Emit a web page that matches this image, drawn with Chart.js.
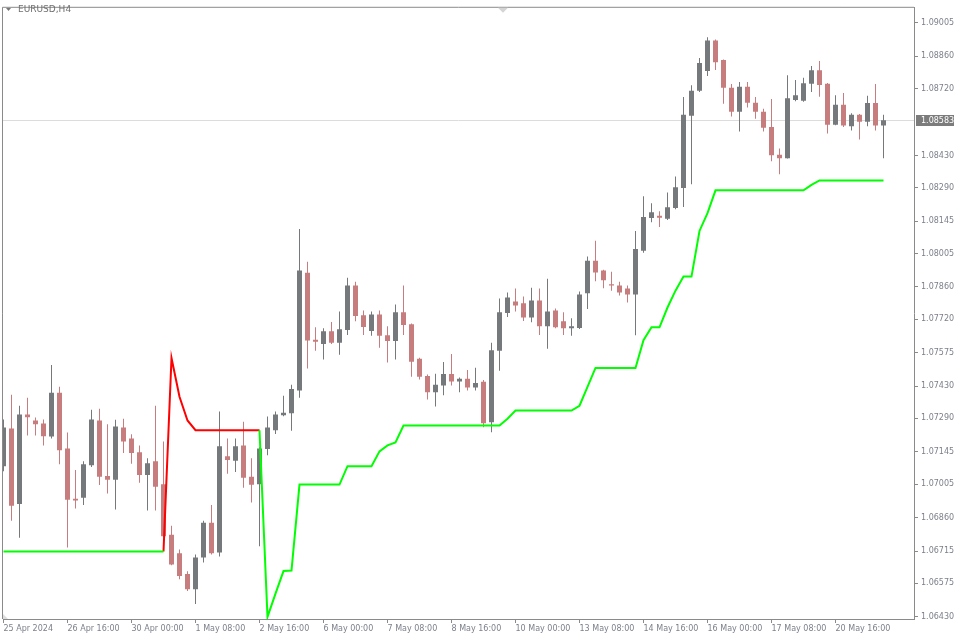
<!DOCTYPE html>
<html lang="en">
<head>
  <meta charset="UTF-8" />
  <title>EURUSD,H4</title>
  <script src="https://cdn.jsdelivr.net/npm/chart.js"></script>
  <style>
    html, body { margin: 0; padding: 0; background: #fff; }
    #wrap { width: 960px; height: 640px; }
  </style>
</head>
<body>
  <div id="wrap"><canvas id="chart" width="960" height="640"></canvas></div>

  <script>
    // x tick labels, one every 8 H4 bars
    const tickIndex = [0, 8, 16, 24, 32, 40, 48, 56, 64, 72, 80, 88, 96, 104];
    const tickLabels = ['25 Apr 2024', '26 Apr 16:00', '30 Apr 00:00', '1 May 08:00', '2 May 16:00',
      '6 May 00:00', '7 May 08:00', '8 May 16:00', '10 May 00:00', '13 May 08:00', '14 May 16:00',
      '16 May 00:00', '17 May 08:00', '20 May 16:00'];

    const priceTicks = [1.09005, 1.08860, 1.08720, 1.08430, 1.08290, 1.08145, 1.08005, 1.07860, 1.07720,
      1.07575, 1.07430, 1.07290, 1.07145, 1.07005, 1.06860, 1.06715, 1.06575, 1.06430];
    const lastPrice = 1.08583;

    const open = [
      1.07083, 1.07246, 1.06919, 1.07307, 1.07281, 1.07268, 1.07212, 1.07401, 1.07160, 1.06942,
      1.06946, 1.07087, 1.07281, 1.07040, 1.07024, 1.07251, 1.07203, 1.07143, 1.07045, 1.07104,
      1.07005, 1.06786, 1.06705, 1.06615, 1.06549, 1.06687, 1.06838, 1.06708, 1.07126, 1.07106,
      1.07173, 1.07037, 1.07005, 1.07157, 1.07239, 1.07304, 1.07312, 1.07411, 1.07922, 1.07631,
      1.07613, 1.07668, 1.07618, 1.07674, 1.07866, 1.07737, 1.07669, 1.07741, 1.07651, 1.07626,
      1.07750, 1.07698, 1.07549, 1.07474, 1.07403, 1.07433, 1.07483, 1.07450, 1.07462, 1.07424,
      1.07449, 1.07273, 1.07583, 1.07747, 1.07797, 1.07789, 1.07728, 1.07801, 1.07690, 1.07758,
      1.07711, 1.07681, 1.07682, 1.07833, 1.07974, 1.07931, 1.07872, 1.07866, 1.07853, 1.07827,
      1.08017, 1.08159, 1.08169, 1.08156, 1.08203, 1.08289, 1.08603, 1.08711, 1.08797, 1.08929,
      1.08844, 1.08724, 1.08620, 1.08728, 1.08659, 1.08620, 1.08554, 1.08434, 1.08418, 1.08671,
      1.08668, 1.08741, 1.08800, 1.08741, 1.08564, 1.08650, 1.08557, 1.08607, 1.08577, 1.08658,
      1.08560];
    const high = [
      1.07285, 1.07393, 1.07345, 1.07380, 1.07294, 1.07285, 1.07522, 1.07427, 1.07229, 1.07066,
      1.07104, 1.07328, 1.07332, 1.07265, 1.07284, 1.07289, 1.07221, 1.07173, 1.07117, 1.07345,
      1.07190, 1.06825, 1.06721, 1.06627, 1.06700, 1.06846, 1.06915, 1.07320, 1.07203, 1.07203,
      1.07276, 1.07117, 1.07165, 1.07298, 1.07320, 1.07388, 1.07436, 1.08111, 1.07969, 1.07685,
      1.07681, 1.07708, 1.07754, 1.07900, 1.07883, 1.07758, 1.07754, 1.07758, 1.07690, 1.07784,
      1.07866, 1.07702, 1.07553, 1.07480, 1.07484, 1.07535, 1.07569, 1.07467, 1.07500, 1.07510,
      1.07457, 1.07618, 1.07810, 1.07836, 1.07853, 1.07819, 1.07857, 1.07853, 1.07896, 1.07767,
      1.07750, 1.07724, 1.07840, 1.07992, 1.08060, 1.07935, 1.07926, 1.07883, 1.07866, 1.08103,
      1.08253, 1.08223, 1.08189, 1.08270, 1.08339, 1.08684, 1.08735, 1.08853, 1.08943, 1.08933,
      1.08847, 1.08740, 1.08749, 1.08749, 1.08684, 1.08633, 1.08675, 1.08461, 1.08778, 1.08758,
      1.08767, 1.08818, 1.08840, 1.08745, 1.08692, 1.08701, 1.08613, 1.08610, 1.08689, 1.08740,
      1.08607];
    const low = [
      1.07061, 1.06846, 1.06773, 1.07216, 1.07216, 1.07173, 1.07203, 1.07091, 1.06730, 1.06899,
      1.06915, 1.07079, 1.07001, 1.06964, 1.06895, 1.07140, 1.07093, 1.07011, 1.06891, 1.06891,
      1.06775, 1.06653, 1.06592, 1.06541, 1.06485, 1.06665, 1.06700, 1.06691, 1.07050, 1.07058,
      1.06989, 1.06925, 1.06736, 1.07130, 1.07222, 1.07299, 1.07236, 1.07380, 1.07506, 1.07583,
      1.07545, 1.07613, 1.07566, 1.07652, 1.07711, 1.07652, 1.07648, 1.07596, 1.07532, 1.07545,
      1.07652, 1.07471, 1.07459, 1.07372, 1.07342, 1.07390, 1.07433, 1.07403, 1.07411, 1.07411,
      1.07252, 1.07230, 1.07497, 1.07730, 1.07754, 1.07712, 1.07707, 1.07652, 1.07592, 1.07681,
      1.07652, 1.07648, 1.07678, 1.07764, 1.07885, 1.07854, 1.07844, 1.07823, 1.07793, 1.07651,
      1.08008, 1.08141, 1.08120, 1.08150, 1.08197, 1.08207, 1.08306, 1.08706, 1.08775, 1.08801,
      1.08655, 1.08599, 1.08534, 1.08638, 1.08590, 1.08534, 1.08405, 1.08349, 1.08417, 1.08666,
      1.08663, 1.08706, 1.08685, 1.08526, 1.08561, 1.08554, 1.08539, 1.08500, 1.08557, 1.08539,
      1.08418];
    const close = [
      1.07251, 1.06911, 1.07307, 1.07295, 1.07265, 1.07213, 1.07401, 1.07152, 1.06937, 1.06934,
      1.07091, 1.07285, 1.07037, 1.07024, 1.07255, 1.07190, 1.07140, 1.07045, 1.07096, 1.06994,
      1.06779, 1.06656, 1.06607, 1.06549, 1.06687, 1.06838, 1.06705, 1.07169, 1.07110, 1.07169,
      1.07033, 1.07002, 1.07160, 1.07251, 1.07307, 1.07315, 1.07418, 1.07931, 1.07628, 1.07622,
      1.07668, 1.07618, 1.07677, 1.07866, 1.07734, 1.07687, 1.07741, 1.07648, 1.07626, 1.07750,
      1.07695, 1.07536, 1.07471, 1.07403, 1.07436, 1.07483, 1.07450, 1.07462, 1.07424, 1.07444,
      1.07269, 1.07586, 1.07750, 1.07814, 1.07780, 1.07728, 1.07801, 1.07690, 1.07754, 1.07685,
      1.07681, 1.07690, 1.07827, 1.07974, 1.07923, 1.07889, 1.07866, 1.07836, 1.07827, 1.08025,
      1.08164, 1.08184, 1.08160, 1.08206, 1.08293, 1.08607, 1.08711, 1.08831, 1.08929, 1.08835,
      1.08724, 1.08620, 1.08728, 1.08659, 1.08620, 1.08551, 1.08431, 1.08418, 1.08679, 1.08692,
      1.08744, 1.08800, 1.08736, 1.08564, 1.08650, 1.08560, 1.08607, 1.08577, 1.08658, 1.08560,
      1.08583];

    // trailing stop: green below price (up trend), red above price (down trend)
    const stopUp = [
      1.06713, 1.06713, 1.06713, 1.06713, 1.06713, 1.06713, 1.06713, 1.06713, 1.06713, 1.06713,
      1.06713, 1.06713, 1.06713, 1.06713, 1.06713, 1.06713, 1.06713, 1.06713, 1.06713, 1.06713,
      1.06713, null, null, null, null, null, null, null, null, null,
      null, null, 1.07239, 1.06429, 1.06530, 1.06628, 1.06630, 1.07003, 1.07003, 1.07003,
      1.07003, 1.07003, 1.07003, 1.07083, 1.07083, 1.07083, 1.07083, 1.07147, 1.07173, 1.07186,
      1.07259, 1.07259, 1.07259, 1.07259, 1.07259, 1.07259, 1.07259, 1.07259, 1.07259, 1.07259,
      1.07259, 1.07259, 1.07259, 1.07289, 1.07324, 1.07324, 1.07324, 1.07324, 1.07324, 1.07324,
      1.07324, 1.07324, 1.07345, 1.07427, 1.07509, 1.07509, 1.07509, 1.07509, 1.07509, 1.07509,
      1.07629, 1.07685, 1.07685, 1.07771, 1.07844, 1.07905, 1.07905, 1.08103, 1.08180, 1.08279,
      1.08279, 1.08279, 1.08279, 1.08279, 1.08279, 1.08279, 1.08279, 1.08279, 1.08279, 1.08279,
      1.08279, 1.08303, 1.08322, 1.08322, 1.08322, 1.08322, 1.08322, 1.08322, 1.08322, 1.08322,
      1.08322];
    const stopDown = [
      null, null, null, null, null, null, null, null, null, null,
      null, null, null, null, null, null, null, null, null, null,
      1.06713, 1.07552, 1.07384, 1.07281, 1.07239, 1.07239, 1.07239, 1.07239, 1.07239, 1.07239,
      1.07239, 1.07239, 1.07239];

    const bullColor = '#76797c';
    const bearColor = '#c77d7d';
    const candleColors = open.map((o, i) => close[i] >= o ? bullColor : bearColor);

    Chart.defaults.font.family = '"DejaVu Sans", sans-serif';

    const frame = {
      id: 'frame',
      beforeDatasetsDraw(chart) {
        const { ctx, chartArea: a, scales: { y } } = chart;
        const py = Math.round(y.getPixelForValue(lastPrice)) + 0.5;
        ctx.save();
        ctx.strokeStyle = '#dcdcdc';
        ctx.lineWidth = 1;
        ctx.beginPath();
        ctx.moveTo(a.left, py);
        ctx.lineTo(a.right, py);
        ctx.stroke();
        ctx.restore();
      },
      afterDraw(chart) {
        const { ctx, chartArea: a, scales: { y } } = chart;
        ctx.save();
        ctx.strokeStyle = '#8a8a8a';
        ctx.lineWidth = 1;
        ctx.beginPath();
        ctx.moveTo(a.left - 0.5, a.bottom);
        ctx.lineTo(a.left - 0.5, a.top - 0.5);
        ctx.lineTo(a.right, a.top - 0.5);
        ctx.stroke();

        // current price tag on the axis
        const py = Math.round(y.getPixelForValue(lastPrice));
        ctx.fillStyle = '#7c7c7c';
        ctx.fillRect(a.right + 2, py - 5, 38, 11);
        ctx.fillStyle = '#ffffff';
        ctx.font = '8px "DejaVu Sans"';
        ctx.textBaseline = 'middle';
        ctx.fillText(lastPrice.toFixed(5), a.right + 7, py + 0.5);

        // symbol caption
        ctx.fillStyle = '#777777';
        ctx.beginPath();
        ctx.moveTo(6, 8); ctx.lineTo(11, 8); ctx.lineTo(8.5, 11); ctx.closePath();
        ctx.fill();
        ctx.fillStyle = '#6f6f6f';
        ctx.font = '9px "DejaVu Sans"';
        ctx.fillText('EURUSD,H4', 18, 10);

        // chart shift marker
        ctx.fillStyle = '#d4d4d4';
        ctx.beginPath();
        ctx.moveTo(498, a.top); ctx.lineTo(508, a.top); ctx.lineTo(503, a.top + 5); ctx.closePath();
        ctx.fill();
        ctx.fillStyle = '#dddddd';
        ctx.beginPath();
        ctx.moveTo(a.left, a.bottom); ctx.lineTo(a.left, a.bottom - 5); ctx.lineTo(a.left + 5, a.bottom); ctx.closePath();
        ctx.fill();
        ctx.restore();
      }
    };

    new Chart(document.getElementById('chart'), {
      type: 'bar',
      data: {
        datasets: [
          {
            type: 'line',
            data: stopUp.map((v, i) => ({ x: i, y: v })),
            borderColor: '#00ff00',
            borderWidth: 2,
            pointRadius: 0,
            tension: 0,
            spanGaps: false,
            order: 0
          },
          {
            type: 'line',
            data: stopDown.map((v, i) => ({ x: i, y: v })),
            borderColor: '#ff0000',
            borderWidth: 2,
            pointRadius: 0,
            tension: 0,
            spanGaps: false,
            order: 0
          },
          {
            data: open.map((o, i) => ({ x: i, y: [o, close[i]] })),
            backgroundColor: candleColors,
            barThickness: 5,
            maxBarThickness: 5,
            minBarLength: 1,
            grouped: false,
            inflateAmount: 0,
            borderWidth: 0,
            order: 1
          },
          {
            data: open.map((o, i) => ({ x: i, y: [low[i], high[i]] })),
            backgroundColor: candleColors,
            barThickness: 1,
            maxBarThickness: 1,
            grouped: false,
            inflateAmount: 0,
            borderWidth: 0,
            order: 2
          }
        ]
      },
      options: {
        responsive: false,
        animation: false,
        devicePixelRatio: 1,
        layout: { padding: { left: 3, top: 3, right: 0, bottom: 0 } },
        plugins: { legend: { display: false }, tooltip: { enabled: false } },
        scales: {
          x: {
            type: 'linear',
            min: -0.0625,
            max: 113.8125,
            offset: false,
            afterBuildTicks: s => { s.ticks = tickIndex.map(v => ({ value: v })); },
            afterFit: s => { s.height = 21; },
            grid: { drawOnChartArea: false, tickLength: 4, color: '#8a8a8a', offset: false },
            border: { color: '#8a8a8a' },
            ticks: {
              autoSkip: false,
              maxRotation: 0,
              align: 'start',
              padding: 1,
              color: '#7d808c',
              font: { size: 8 },
              callback: v => tickLabels[tickIndex.indexOf(v)]
            }
          },
          y: {
            type: 'linear',
            position: 'right',
            min: 1.064201,
            max: 1.090708,
            afterBuildTicks: s => { s.ticks = priceTicks.map(v => ({ value: v })); },
            afterFit: s => { s.width = 46; },
            grid: { drawOnChartArea: false, tickLength: 4, color: '#8a8a8a' },
            border: { color: '#8a8a8a' },
            ticks: {
              padding: 3,
              color: '#7d808c',
              font: { size: 8 },
              callback: v => v.toFixed(5)
            }
          }
        }
      },
      plugins: [frame]
    });
  </script>
</body>
</html>
